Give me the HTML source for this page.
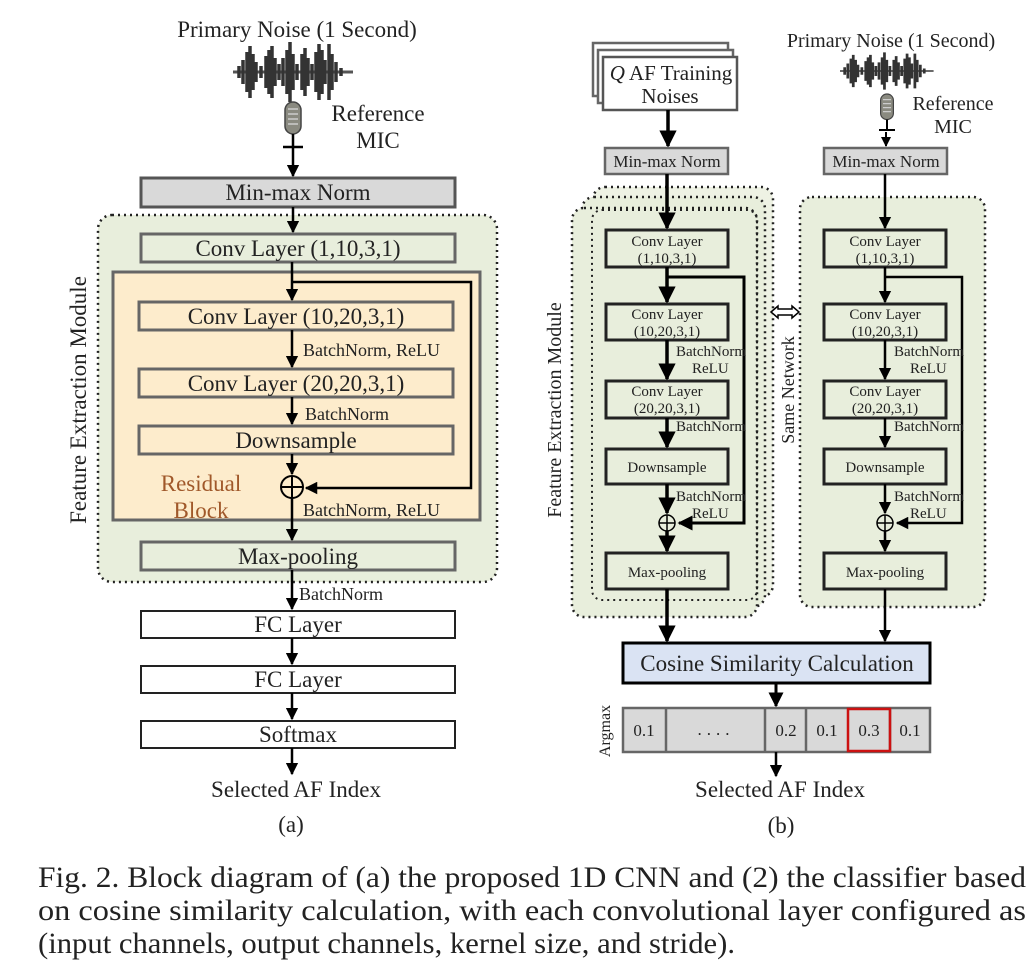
<!DOCTYPE html>
<html><head><meta charset="utf-8"><style>
html,body{margin:0;padding:0;background:#fff}
svg{display:block}
text{font-family:"Liberation Serif",serif;fill:#222}
</style></head><body>
<svg width="1035" height="965" viewBox="0 0 1035 965" xmlns="http://www.w3.org/2000/svg">
<defs>
<marker id="ah" viewBox="0 0 10 10" refX="9" refY="5" markerWidth="5" markerHeight="5" orient="auto-start-reverse"><path d="M0,0 L10,5 L0,10 z" fill="#000"/></marker>
<g id="wave">
<path d="M0,0 h120" stroke="#555" stroke-width="3"/>
<path d="M6,-6v12 M10,-12v24 M14,-20v40 M17,-26v52 M20,-18v36 M23,-10v20 M28,-6v12 M33,-16v32 M36,-22v44 M39,-26v52 M42,-14v28 M46,-8v16 M50,-14v28 M54,-22v44 M57,-30v60 M60,-18v36 M64,-8v16 M69,-18v36 M72,-24v48 M75,-14v28 M79,-8v16 M83,-20v40 M86,-28v56 M89,-22v44 M92,-12v24 M96,-28v56 M99,-18v36 M103,-10v20 M108,-4v8" stroke="#333" stroke-width="3.5"/>
</g>
<g id="mic">
<rect x="-8" y="0" width="16" height="32" rx="8" fill="#8a8a80" stroke="#444" stroke-width="1.5"/>
<path d="M-5,7h10M-5,12h10M-5,17h10M-5,22h10" stroke="#ccc" stroke-width="1.5"/>
<path d="M0,32v12 M-10,45h20" stroke="#000" stroke-width="2.5"/>
</g>
</defs>

<!-- ============ (a) ============ -->
<text x="297" y="37" font-size="23" text-anchor="middle">Primary Noise (1 Second)</text>
<use href="#wave" x="233" y="72"/>
<use href="#mic" x="293" y="102"/>
<text x="378" y="121" font-size="23" text-anchor="middle">Reference</text>
<text x="378" y="148" font-size="23" text-anchor="middle">MIC</text>
<line x1="293" y1="148" x2="293" y2="176" stroke="#000" stroke-width="2.5" marker-end="url(#ah)"/>
<rect x="141" y="178" width="314" height="29" fill="#d9d9d9" stroke="#555" stroke-width="3"/>
<text x="298" y="200" font-size="23" text-anchor="middle">Min-max Norm</text>

<rect x="98" y="215" width="399" height="367" rx="14" fill="#e8eedc" stroke="#222" stroke-width="2.5" stroke-dasharray="2,4"/>
<text transform="translate(86,400) rotate(-90)" font-size="23" text-anchor="middle">Feature Extraction Module</text>
<line x1="293" y1="207" x2="293" y2="232" stroke="#000" stroke-width="2.5" marker-end="url(#ah)"/>
<rect x="141" y="234" width="314" height="28" fill="#e8eedc" stroke="#666" stroke-width="3"/>
<text x="298" y="256" font-size="23" text-anchor="middle">Conv Layer (1,10,3,1)</text>

<rect x="113" y="272" width="367" height="248" fill="#fdeccc" stroke="#666" stroke-width="3"/>
<line x1="292" y1="262" x2="292" y2="300" stroke="#000" stroke-width="2.5" marker-end="url(#ah)"/>
<polyline points="292,282 471,282 471,488 306,488" fill="none" stroke="#000" stroke-width="2.5" marker-end="url(#ah)"/>
<rect x="139" y="302" width="314" height="28" fill="#fdeccc" stroke="#666" stroke-width="3"/>
<text x="296" y="324" font-size="23" text-anchor="middle">Conv Layer (10,20,3,1)</text>
<line x1="292" y1="330" x2="292" y2="367" stroke="#000" stroke-width="2.5" marker-end="url(#ah)"/>
<text x="303" y="356" font-size="18">BatchNorm, ReLU</text>
<rect x="139" y="369" width="314" height="28" fill="#fdeccc" stroke="#666" stroke-width="3"/>
<text x="296" y="391" font-size="23" text-anchor="middle">Conv Layer (20,20,3,1)</text>
<line x1="292" y1="397" x2="292" y2="424" stroke="#000" stroke-width="2.5" marker-end="url(#ah)"/>
<text x="305" y="420" font-size="18">BatchNorm</text>
<rect x="139" y="426" width="314" height="28" fill="#fdeccc" stroke="#666" stroke-width="3"/>
<text x="296" y="448" font-size="23" text-anchor="middle">Downsample</text>
<line x1="292" y1="454" x2="292" y2="474" stroke="#000" stroke-width="2.5" marker-end="url(#ah)"/>
<circle cx="292" cy="487" r="11" fill="none" stroke="#000" stroke-width="2"/>
<path d="M281,487h22M292,476v22" stroke="#000" stroke-width="2"/>
<text x="201" y="491" font-size="23" text-anchor="middle" style="fill:#a0582a">Residual</text>
<text x="201" y="518" font-size="23" text-anchor="middle" style="fill:#a0582a">Block</text>
<text x="303" y="516" font-size="18">BatchNorm, ReLU</text>
<line x1="292" y1="498" x2="292" y2="540" stroke="#000" stroke-width="2.5" marker-end="url(#ah)"/>
<rect x="141" y="542" width="314" height="28" fill="#e8eedc" stroke="#666" stroke-width="3"/>
<text x="298" y="564" font-size="23" text-anchor="middle">Max-pooling</text>
<line x1="292" y1="570" x2="292" y2="609" stroke="#000" stroke-width="2.5" marker-end="url(#ah)"/>
<text x="299" y="600" font-size="18">BatchNorm</text>
<rect x="141" y="611" width="314" height="27" fill="#fff" stroke="#222" stroke-width="2"/>
<text x="298" y="632" font-size="23" text-anchor="middle">FC Layer</text>
<line x1="292" y1="638" x2="292" y2="664" stroke="#000" stroke-width="2.5" marker-end="url(#ah)"/>
<rect x="141" y="666" width="314" height="27" fill="#fff" stroke="#222" stroke-width="2"/>
<text x="298" y="687" font-size="23" text-anchor="middle">FC Layer</text>
<line x1="292" y1="693" x2="292" y2="719" stroke="#000" stroke-width="2.5" marker-end="url(#ah)"/>
<rect x="141" y="721" width="314" height="27" fill="#fff" stroke="#222" stroke-width="2"/>
<text x="298" y="742" font-size="23" text-anchor="middle">Softmax</text>
<line x1="292" y1="748" x2="292" y2="774" stroke="#000" stroke-width="2.5" marker-end="url(#ah)"/>
<text x="296" y="797" font-size="23" text-anchor="middle">Selected AF Index</text>
<text x="291" y="832" font-size="23" text-anchor="middle">(a)</text>

<!-- ============ (b) ============ -->
<rect x="593" y="43" width="135" height="53" fill="#fff" stroke="#666" stroke-width="2.5"/>
<rect x="598" y="50" width="135" height="53" fill="#fff" stroke="#666" stroke-width="2.5"/>
<rect x="603" y="57" width="134" height="53" fill="#fff" stroke="#555" stroke-width="2.5"/>
<text x="671" y="80" font-size="21" text-anchor="middle"><tspan font-style="italic">Q</tspan> AF Training</text>
<text x="670" y="103" font-size="21" text-anchor="middle">Noises</text>
<line x1="668" y1="110" x2="668" y2="146" stroke="#000" stroke-width="3.5" marker-end="url(#ah)"/>
<rect x="605" y="148" width="123" height="26" fill="#d9d9d9" stroke="#666" stroke-width="2.5"/>
<text x="667" y="167" font-size="17" text-anchor="middle">Min-max Norm</text>

<text x="891" y="47" font-size="20" text-anchor="middle">Primary Noise (1 Second)</text>
<g transform="translate(840,71) scale(0.78,0.62)"><use href="#wave"/></g>
<g transform="translate(887,94) scale(0.8)"><use href="#mic"/></g>
<text x="953" y="110" font-size="20" text-anchor="middle">Reference</text>
<text x="953" y="133" font-size="20" text-anchor="middle">MIC</text>
<line x1="886" y1="132" x2="886" y2="146" stroke="#000" stroke-width="2" marker-end="url(#ah)"/>
<rect x="824" y="148" width="123" height="26" fill="#d9d9d9" stroke="#666" stroke-width="2.5"/>
<text x="886" y="167" font-size="17" text-anchor="middle">Min-max Norm</text>

<!-- stacked green regions -->
<rect x="593" y="187" width="180" height="410" rx="12" fill="#eef2e4" stroke="#222" stroke-width="2.5" stroke-dasharray="2,4"/>
<rect x="582" y="197" width="183" height="410" rx="12" fill="#e8eedc" stroke="#222" stroke-width="2.5" stroke-dasharray="2,4"/>
<rect x="572" y="208" width="185" height="409" rx="12" fill="#e8eedc" stroke="#222" stroke-width="2.5" stroke-dasharray="2,4"/>
<rect x="592" y="210" width="165" height="390" rx="10" fill="none" stroke="#222" stroke-width="2" stroke-dasharray="2,4"/>
<text transform="translate(561,410) rotate(-90)" font-size="20" text-anchor="middle">Feature Extraction Module</text>

<rect x="800" y="197" width="185" height="410" rx="12" fill="#e8eedc" stroke="#222" stroke-width="2.5" stroke-dasharray="2,4"/>

<!-- left column network -->
<g>
<line x1="667" y1="174" x2="667" y2="228" stroke="#000" stroke-width="3.5" marker-end="url(#ah)"/>
<rect x="606" y="230" width="122" height="37" fill="#e8eedc" stroke="#222" stroke-width="3"/>
<text x="667" y="246" font-size="15" text-anchor="middle">Conv Layer</text>
<text x="667" y="263" font-size="15" text-anchor="middle">(1,10,3,1)</text>
<line x1="667" y1="267" x2="667" y2="302" stroke="#000" stroke-width="3.5" marker-end="url(#ah)"/>
<polyline points="667,277 744,277 744,523 679,523" fill="none" stroke="#000" stroke-width="3" marker-end="url(#ah)"/>
<rect x="606" y="304" width="122" height="36" fill="#e8eedc" stroke="#222" stroke-width="3"/>
<text x="667" y="319" font-size="15" text-anchor="middle">Conv Layer</text>
<text x="667" y="336" font-size="15" text-anchor="middle">(10,20,3,1)</text>
<line x1="667" y1="340" x2="667" y2="379" stroke="#000" stroke-width="3.5" marker-end="url(#ah)"/>
<text x="676" y="356" font-size="15">BatchNorm</text>
<text x="692" y="373" font-size="15">ReLU</text>
<rect x="606" y="381" width="122" height="37" fill="#e8eedc" stroke="#222" stroke-width="3"/>
<text x="667" y="396" font-size="15" text-anchor="middle">Conv Layer</text>
<text x="667" y="413" font-size="15" text-anchor="middle">(20,20,3,1)</text>
<line x1="667" y1="418" x2="667" y2="447" stroke="#000" stroke-width="3.5" marker-end="url(#ah)"/>
<text x="676" y="431" font-size="15">BatchNorm</text>
<rect x="606" y="449" width="122" height="35" fill="#e8eedc" stroke="#222" stroke-width="3"/>
<text x="667" y="472" font-size="15" text-anchor="middle">Downsample</text>
<line x1="667" y1="484" x2="667" y2="513" stroke="#000" stroke-width="3.5" marker-end="url(#ah)"/>
<text x="676" y="501" font-size="15">BatchNorm</text>
<text x="692" y="518" font-size="15">ReLU</text>
<circle cx="667" cy="523" r="8" fill="none" stroke="#000" stroke-width="1.5"/>
<path d="M659,523h16M667,515v16" stroke="#000" stroke-width="1.5"/>
<line x1="667" y1="531" x2="667" y2="551" stroke="#000" stroke-width="3.5" marker-end="url(#ah)"/>
<rect x="606" y="553" width="122" height="36" fill="#e8eedc" stroke="#222" stroke-width="3"/>
<text x="667" y="577" font-size="15" text-anchor="middle">Max-pooling</text>
<line x1="667" y1="589" x2="667" y2="641" stroke="#000" stroke-width="3.5" marker-end="url(#ah)"/>
</g>
<!-- right column network -->
<g transform="translate(218,0)">
<line x1="667" y1="174" x2="667" y2="228" stroke="#000" stroke-width="2.5" marker-end="url(#ah)"/>
<rect x="606" y="230" width="122" height="37" fill="#e8eedc" stroke="#222" stroke-width="3"/>
<text x="667" y="246" font-size="15" text-anchor="middle">Conv Layer</text>
<text x="667" y="263" font-size="15" text-anchor="middle">(1,10,3,1)</text>
<line x1="667" y1="267" x2="667" y2="302" stroke="#000" stroke-width="2.5" marker-end="url(#ah)"/>
<polyline points="667,277 744,277 744,523 679,523" fill="none" stroke="#000" stroke-width="2.5" marker-end="url(#ah)"/>
<rect x="606" y="304" width="122" height="36" fill="#e8eedc" stroke="#222" stroke-width="3"/>
<text x="667" y="319" font-size="15" text-anchor="middle">Conv Layer</text>
<text x="667" y="336" font-size="15" text-anchor="middle">(10,20,3,1)</text>
<line x1="667" y1="340" x2="667" y2="379" stroke="#000" stroke-width="2.5" marker-end="url(#ah)"/>
<text x="676" y="356" font-size="15">BatchNorm</text>
<text x="692" y="373" font-size="15">ReLU</text>
<rect x="606" y="381" width="122" height="37" fill="#e8eedc" stroke="#222" stroke-width="3"/>
<text x="667" y="396" font-size="15" text-anchor="middle">Conv Layer</text>
<text x="667" y="413" font-size="15" text-anchor="middle">(20,20,3,1)</text>
<line x1="667" y1="418" x2="667" y2="447" stroke="#000" stroke-width="2.5" marker-end="url(#ah)"/>
<text x="676" y="431" font-size="15">BatchNorm</text>
<rect x="606" y="449" width="122" height="35" fill="#e8eedc" stroke="#222" stroke-width="3"/>
<text x="667" y="472" font-size="15" text-anchor="middle">Downsample</text>
<line x1="667" y1="484" x2="667" y2="513" stroke="#000" stroke-width="2.5" marker-end="url(#ah)"/>
<text x="676" y="501" font-size="15">BatchNorm</text>
<text x="692" y="518" font-size="15">ReLU</text>
<circle cx="667" cy="523" r="8" fill="none" stroke="#000" stroke-width="1.5"/>
<path d="M659,523h16M667,515v16" stroke="#000" stroke-width="1.5"/>
<line x1="667" y1="531" x2="667" y2="551" stroke="#000" stroke-width="2.5" marker-end="url(#ah)"/>
<rect x="606" y="553" width="122" height="36" fill="#e8eedc" stroke="#222" stroke-width="3"/>
<text x="667" y="577" font-size="15" text-anchor="middle">Max-pooling</text>
<line x1="667" y1="589" x2="667" y2="641" stroke="#000" stroke-width="2.5" marker-end="url(#ah)"/>
</g>

<!-- same network -->
<path d="M771,312 l7,-6 v3 h14 v-3 l7,6 l-7,6 v-3 h-14 v3 z" fill="#fff" stroke="#000" stroke-width="1.5"/>
<text transform="translate(794,390) rotate(-90)" font-size="18" text-anchor="middle">Same Network</text>

<rect x="623" y="643" width="307" height="40" fill="#dae3f3" stroke="#000" stroke-width="3"/>
<text x="777" y="671" font-size="23" text-anchor="middle">Cosine Similarity Calculation</text>
<line x1="776" y1="683" x2="776" y2="706" stroke="#000" stroke-width="3" marker-end="url(#ah)"/>
<rect x="623" y="708" width="307" height="44" fill="#d9d9d9" stroke="#666" stroke-width="2.5"/>
<path d="M666,708v44M765,708v44M806,708v44M890,708v44" stroke="#666" stroke-width="2.5"/>
<rect x="848" y="709" width="42" height="42" fill="none" stroke="#cc1111" stroke-width="2.5"/>
<text x="644" y="736" font-size="17" text-anchor="middle">0.1</text>
<text x="716" y="735" font-size="17" text-anchor="middle" letter-spacing="5">....</text>
<text x="786" y="736" font-size="17" text-anchor="middle">0.2</text>
<text x="827" y="736" font-size="17" text-anchor="middle">0.1</text>
<text x="869" y="736" font-size="17" text-anchor="middle">0.3</text>
<text x="910" y="736" font-size="17" text-anchor="middle">0.1</text>
<text transform="translate(610,731) rotate(-90)" font-size="16" text-anchor="middle">Argmax</text>
<line x1="776" y1="752" x2="776" y2="776" stroke="#000" stroke-width="2.5" marker-end="url(#ah)"/>
<text x="780" y="797" font-size="23" text-anchor="middle">Selected AF Index</text>
<text x="781" y="833" font-size="23" text-anchor="middle">(b)</text>

<!-- caption -->
<text x="38" y="887" font-size="30" textLength="988" lengthAdjust="spacingAndGlyphs">Fig. 2.  Block diagram of (a) the proposed 1D CNN and (2) the classifier based</text>
<text x="38" y="920" font-size="30" textLength="988" lengthAdjust="spacingAndGlyphs">on cosine similarity calculation, with each convolutional layer configured as</text>
<text x="38" y="953" font-size="30" textLength="697" lengthAdjust="spacingAndGlyphs">(input channels, output channels, kernel size, and stride).</text>
</svg>
</body></html>
